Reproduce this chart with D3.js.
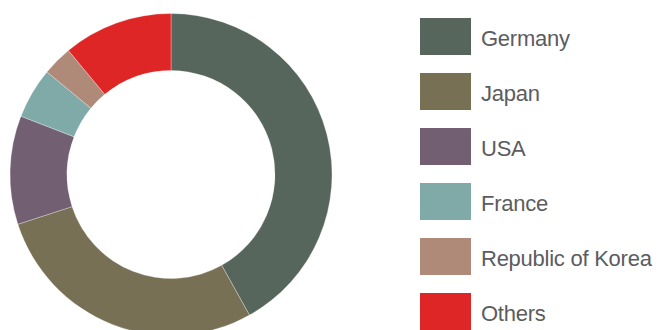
<!DOCTYPE html>
<html><head><meta charset="utf-8">
<script src="https://cdn.jsdelivr.net/npm/d3@7"></script>
<style>body{margin:0;background:#fff}svg{display:block}</style>
</head><body>
<svg id="c" width="657" height="330"></svg>
<script>
const categories = ["Germany","Japan","USA","France","Republic of Korea","Others"];
const values = [41.9, 28.1, 10.9, 5.1, 3.0, 11.0];
const colors = ["#56665d","#787055","#735f72","#7faaa8","#b08a79","#df2626"];

const svg = d3.select("#c");
const cx = 171, cy = 174.5, rOuter = 161, rInner = 104;
const pie = d3.pie().sort(null).value(d => d.v);
const arc = d3.arc().innerRadius(rInner).outerRadius(rOuter);
const data = categories.map((c,i)=>({c, v: values[i], col: colors[i]}));
const g = svg.append("g").attr("transform",`translate(${cx},${cy})`);
g.selectAll("path").data(pie(data)).join("path")
  .attr("d", arc).attr("fill", d => d.data.col)
  .attr("stroke","#fff").attr("stroke-width",0.3);

const leg = svg.append("g");
const y = d3.scalePoint().domain(categories).range([18, 293]);
const items = leg.selectAll("g").data(data).join("g")
  .attr("transform", d => `translate(420,${y(d.c)})`);
items.append("rect").attr("width",51).attr("height",37).attr("fill", d=>d.col);
items.append("text").attr("x",61).attr("y",28.3)
  .attr("font-family","Liberation Sans, Arial, sans-serif")
  .attr("font-size","22px").attr("letter-spacing","-0.25px")
  .attr("fill","#5b5c60").text(d=>d.c);
</script>
</body></html>
